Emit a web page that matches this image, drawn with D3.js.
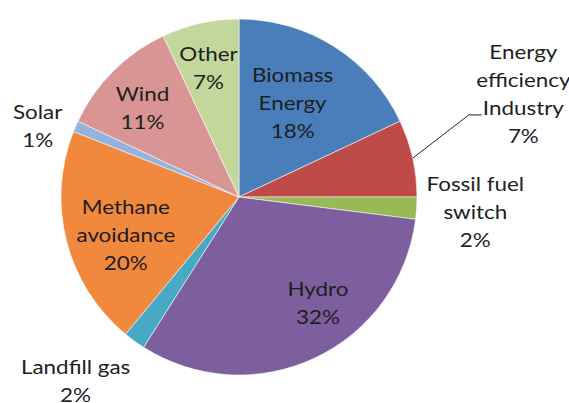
<!DOCTYPE html>
<html><head><meta charset="utf-8">
<script src="https://cdn.jsdelivr.net/npm/d3@7"></script>
<style>html,body{margin:0;padding:0;background:#fff;}svg{display:block;}</style>
</head><body>
<svg id="chart" width="569" height="403"></svg>
<script>
// ---- data ----
const categories = ["Biomass Energy", "Energy efficiency Industry", "Fossil fuel switch", "Hydro", "Landfill gas", "Methane avoidance", "Solar", "Wind", "Other"];
const values = [18, 7, 2, 32, 2, 20, 1, 11, 7];
const labelLines = [["Biomass", "Energy"], ["Energy", "efficiency", "Industry"], ["Fossil fuel", "switch"], ["Hydro"], ["Landfill gas"], ["Methane", "avoidance"], ["Solar"], ["Wind"], ["Other"]];
const colors = ["#4a7ebb", "#be4b48", "#98b954", "#7d5fa0", "#46aac4", "#f0883e", "#93b3dd", "#d99593", "#c3d69b"];

// ---- layout (label placement relative to slice mid-angle) ----
const labelLayout = [
  {r: 0.61, da: -2.8}, {r: 1.70, da: -7.4}, {r: 1.33, da: -0.2},
  {r: 0.74, da: -11.6}, {r: 1.38, da: 5.7}, {r: 0.67, da: -4},
  {r: 1.20, da: -3.9}, {r: 0.74, da: -2.1}, {r: 0.75, da: -0.6}
];
const cx = 239, cy = 197, R = 178, lineH = 28, sx = 1.18;

const svg = d3.select("#chart");
const g = svg.append("g").attr("transform", `translate(${cx},${cy})`);
const pie = d3.pie().sort(null).value(d => d);
const arcs = pie(values);
const arc = d3.arc().innerRadius(0).outerRadius(R);

g.selectAll("path.slice").data(arcs).join("path")
  .attr("class", "slice")
  .attr("d", arc)
  .attr("fill", (d, i) => colors[i])
  .attr("stroke", "rgba(255,255,255,0.55)")
  .attr("stroke-width", 1);

const fmt = d3.format(".0f");
arcs.forEach((d, i) => {
  const L = labelLayout[i];
  const a = (d.startAngle + d.endAngle) / 2 + L.da * Math.PI / 180;
  const x = Math.sin(a) * R * L.r, y = -Math.cos(a) * R * L.r;
  const lines = labelLines[i].concat([fmt(values[i]) + "%"]);
  const t = g.append("text")
    .attr("transform", `translate(${x},${y}) scale(${sx},1)`)
    .attr("text-anchor", "middle")
    .attr("font-family", "Lato, 'Open Sans', sans-serif")
    .attr("font-size", 19)
    .attr("fill", "#1e1e1e");
  lines.forEach((s, k) => {
    t.append("tspan").attr("x", 0)
      .attr("y", (k - (lines.length - 1) / 2) * lineH)
      .attr("dominant-baseline", "central")
      .text(s);
  });
  if (i === 1) {
    // leader line from slice edge to label
    const ma = (d.startAngle + d.endAngle) / 2;
    const p0 = [Math.sin(ma) * R, -Math.cos(ma) * R];
    const ind = t.selectAll("tspan").nodes()[2];
    const bb = ind.getBBox();
    const yb = y + bb.y + bb.height - 4;
    const xe = x + bb.x * sx - 1;
    g.append("polyline")
      .attr("points", [p0, [xe - 13, yb], [xe, yb]].map(p => p.join(",")).join(" "))
      .attr("fill", "none").attr("stroke", "#222").attr("stroke-width", 1);
  }
});
</script>
</body></html>
